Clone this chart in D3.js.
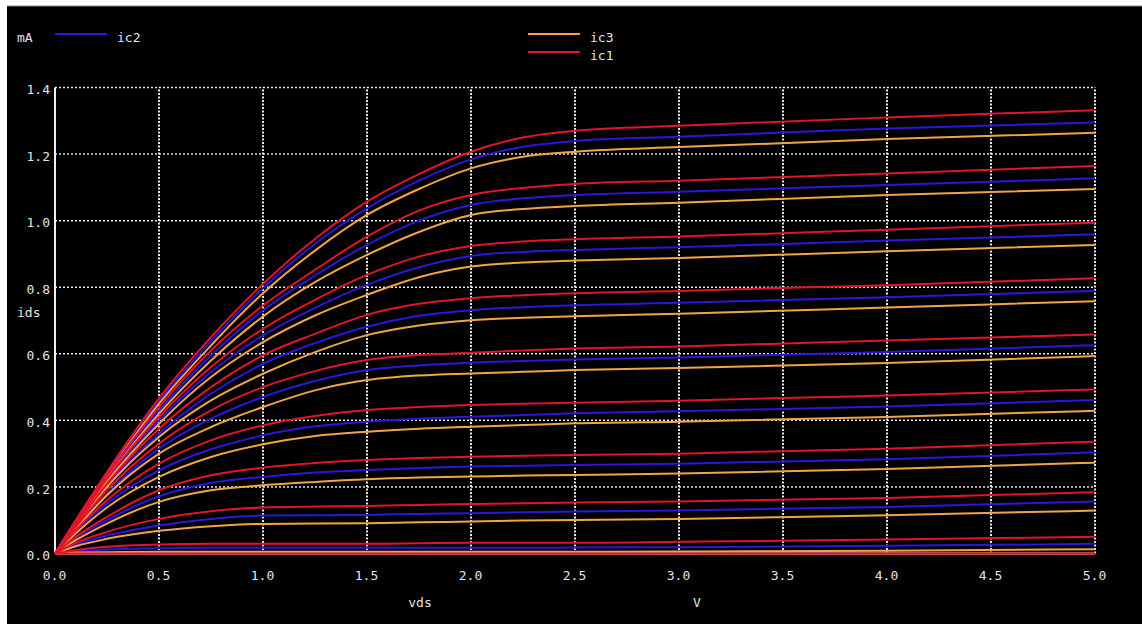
<!DOCTYPE html>
<html>
<head>
  <title>ids vs vds</title>
  <script src="https://d3js.org/d3.v7.min.js"></script>
  <style>
    body { margin: 0; background: #fff; }
    text {
      font-family: "DejaVu Sans Mono", monospace;
      font-size: 13px;
      fill: #e4e4e4;
    }
    .curve { fill: none; stroke-width: 2px; }
    .grid { stroke: #e8e8e8; stroke-width: 1.5px; }
  </style>
</head>
<body>
<svg width="1142" height="624"></svg>
<script>
  // sweep points (V)
  const vds = [0, 0.1, 0.25, 0.5, 0.75, 1.0, 1.25, 1.5, 1.75, 2.0, 2.25, 2.5, 3.0, 4.0, 5.0];

  // ic1 (red), one row per gate step, mA
  const ic1 = [
    [0, 0.100, 0.245, 0.466, 0.650, 0.810, 0.945, 1.057, 1.140, 1.207, 1.250, 1.270, 1.285, 1.310, 1.332],
    [0, 0.095, 0.235, 0.440, 0.610, 0.745, 0.852, 0.952, 1.030, 1.077, 1.098, 1.110, 1.120, 1.142, 1.164],
    [0, 0.090, 0.225, 0.410, 0.560, 0.675, 0.762, 0.837, 0.892, 0.924, 0.937, 0.944, 0.952, 0.973, 0.994],
    [0, 0.085, 0.210, 0.375, 0.500, 0.595, 0.660, 0.717, 0.750, 0.767, 0.776, 0.782, 0.789, 0.806, 0.827],
    [0, 0.080, 0.190, 0.330, 0.430, 0.500, 0.548, 0.581, 0.596, 0.603, 0.610, 0.616, 0.622, 0.640, 0.658],
    [0, 0.070, 0.160, 0.270, 0.340, 0.385, 0.413, 0.431, 0.440, 0.446, 0.450, 0.453, 0.459, 0.475, 0.493],
    [0, 0.050, 0.110, 0.190, 0.235, 0.258, 0.272, 0.281, 0.287, 0.291, 0.294, 0.296, 0.300, 0.315, 0.336],
    [0, 0.032, 0.065, 0.104, 0.127, 0.138, 0.141, 0.143, 0.146, 0.149, 0.151, 0.153, 0.156, 0.167, 0.184],
    [0, 0.010, 0.020, 0.027, 0.029, 0.029, 0.029, 0.029, 0.031, 0.032, 0.032, 0.032, 0.035, 0.042, 0.050],
    [0, 0, 0, 0, 0, 0, 0, 0, 0, 0, 0, 0, 0, 0, 0]
  ];

  // ic2 (blue)
  const ic2 = [
    [0, 0.100, 0.240, 0.458, 0.638, 0.797, 0.930, 1.037, 1.120, 1.184, 1.222, 1.239, 1.252, 1.277, 1.295],
    [0, 0.093, 0.230, 0.430, 0.595, 0.730, 0.835, 0.927, 1.000, 1.047, 1.067, 1.077, 1.087, 1.107, 1.127],
    [0, 0.088, 0.220, 0.400, 0.545, 0.655, 0.738, 0.807, 0.860, 0.894, 0.906, 0.912, 0.920, 0.940, 0.959],
    [0, 0.083, 0.205, 0.360, 0.480, 0.570, 0.632, 0.681, 0.714, 0.731, 0.740, 0.746, 0.753, 0.770, 0.789],
    [0, 0.077, 0.180, 0.315, 0.405, 0.470, 0.518, 0.551, 0.565, 0.573, 0.578, 0.583, 0.589, 0.605, 0.626],
    [0, 0.066, 0.150, 0.250, 0.313, 0.355, 0.382, 0.396, 0.405, 0.411, 0.416, 0.421, 0.427, 0.442, 0.461],
    [0, 0.046, 0.100, 0.172, 0.212, 0.230, 0.243, 0.251, 0.257, 0.261, 0.264, 0.266, 0.270, 0.283, 0.304],
    [0, 0.027, 0.054, 0.084, 0.104, 0.114, 0.115, 0.116, 0.119, 0.121, 0.124, 0.126, 0.129, 0.140, 0.156],
    [0, 0.006, 0.012, 0.016, 0.017, 0.017, 0.017, 0.017, 0.017, 0.017, 0.017, 0.018, 0.019, 0.023, 0.029],
    [0, 0, 0, 0, 0, 0, 0, 0, 0, 0, 0, 0, 0, 0, 0]
  ];

  // ic3 (orange)
  const ic3 = [
    [0, 0.098, 0.235, 0.450, 0.625, 0.782, 0.910, 1.017, 1.095, 1.157, 1.192, 1.207, 1.221, 1.245, 1.264],
    [0, 0.090, 0.225, 0.420, 0.580, 0.712, 0.815, 0.897, 0.966, 1.017, 1.035, 1.044, 1.054, 1.077, 1.095],
    [0, 0.085, 0.215, 0.390, 0.530, 0.635, 0.715, 0.777, 0.830, 0.862, 0.874, 0.880, 0.888, 0.908, 0.927],
    [0, 0.080, 0.200, 0.350, 0.460, 0.540, 0.605, 0.656, 0.685, 0.701, 0.708, 0.713, 0.720, 0.739, 0.758],
    [0, 0.074, 0.175, 0.300, 0.380, 0.440, 0.490, 0.521, 0.535, 0.541, 0.546, 0.551, 0.557, 0.572, 0.593],
    [0, 0.060, 0.138, 0.230, 0.290, 0.328, 0.353, 0.366, 0.375, 0.381, 0.386, 0.391, 0.396, 0.410, 0.429],
    [0, 0.040, 0.090, 0.155, 0.190, 0.205, 0.215, 0.223, 0.228, 0.231, 0.234, 0.236, 0.240, 0.254, 0.273],
    [0, 0.022, 0.044, 0.068, 0.082, 0.089, 0.090, 0.091, 0.094, 0.096, 0.099, 0.101, 0.104, 0.115, 0.129],
    [0, 0.003, 0.004, 0.005, 0.005, 0.005, 0.005, 0.005, 0.005, 0.005, 0.005, 0.005, 0.006, 0.008, 0.013],
    [0, 0, 0, 0, 0, 0, 0, 0, 0, 0, 0, 0, 0, 0, 0]
  ];

  const xTicks = [0, 0.5, 1.0, 1.5, 2.0, 2.5, 3.0, 3.5, 4.0, 4.5, 5.0];
  const yTicks = [0, 0.2, 0.4, 0.6, 0.8, 1.0, 1.2, 1.4];

  // plotted in legend order, so ic1 ends up on top
  const traces = [
    {name: "ic2", color: "#2a16dc", curves: ic2},
    {name: "ic3", color: "#f2a445", curves: ic3},
    {name: "ic1", color: "#e2142c", curves: ic1}
  ];

  const svg = d3.select("svg");

  // black canvas, white strip left/top like the screenshot
  svg.append("rect")
    .attr("x", 7).attr("y", 6)
    .attr("width", 1142 - 7).attr("height", 624 - 6)
    .attr("fill", "#000");
  svg.append("line")
    .attr("x1", 7).attr("x2", 1142).attr("y1", 6).attr("y2", 6)
    .attr("stroke", "#888").attr("stroke-width", 1);

  const x = d3.scaleLinear().domain([0, 5]).range([55, 1095]);
  const y = d3.scaleLinear().domain([0, 1.4]).range([553.5, 87.5]);

  // dotted grid
  svg.append("g").selectAll("line")
    .data(yTicks.filter(d => d > 0))
    .join("line")
      .attr("class", "grid")
      .attr("x1", x(0)).attr("x2", x(5))
      .attr("y1", d => y(d)).attr("y2", d => y(d))
      .attr("stroke-dasharray", "2,2");
  svg.append("g").selectAll("line")
    .data(xTicks.filter(d => d > 0))
    .join("line")
      .attr("class", "grid")
      .style("stroke-width", "2px")
      .attr("y1", y(0)).attr("y2", y(1.4))
      .attr("x1", d => x(d)).attr("x2", d => x(d))
      .attr("stroke-dasharray", "2,1.5");

  // solid left and bottom axis lines
  svg.append("line")
    .attr("x1", x(0)).attr("x2", x(0)).attr("y1", y(0)).attr("y2", y(1.4))
    .attr("stroke", "#f0f0f0").attr("stroke-width", 2);
  svg.append("line")
    .attr("x1", x(0)).attr("x2", x(5)).attr("y1", y(0)).attr("y2", y(0))
    .attr("stroke", "#f0f0f0").attr("stroke-width", 2);

  // tick labels
  const yAxis = svg.append("g")
    .attr("transform", `translate(${x(0)},2)`)
    .call(d3.axisLeft(y).tickValues(yTicks).tickFormat(d3.format(".1f")).tickSize(0).tickPadding(5));
  yAxis.select(".domain").remove();

  const xAxis = svg.append("g")
    .attr("transform", `translate(-1,${y(0)})`)
    .call(d3.axisBottom(x).tickValues(xTicks).tickFormat(d3.format(".1f")).tickSize(0).tickPadding(17));
  xAxis.select(".domain").remove();

  svg.selectAll(".tick text")
    .attr("fill", null)
    .style("font-family", '"DejaVu Sans Mono", monospace')
    .style("font-size", "13px");

  // curves
  const line = d3.line()
    .x((d, i) => x(vds[i]))
    .y(d => y(d))
    .curve(d3.curveMonotoneX);

  traces.forEach(t => {
    svg.append("g").selectAll("path")
      .data(t.curves)
      .join("path")
        .attr("class", "curve")
        .attr("stroke", t.color)
        .attr("d", d => line(d));
  });

  // titles
  svg.append("text").attr("x", 17).attr("y", 42).text("mA");
  svg.append("text").attr("x", 17).attr("y", 317).text("ids");
  svg.append("text").attr("x", 420).attr("y", 607).attr("text-anchor", "middle").text("vds");
  svg.append("text").attr("x", 697).attr("y", 607).attr("text-anchor", "middle").text("V");

  // legend
  const legend = [
    {name: "ic2", x: 55, y: 34},
    {name: "ic3", x: 528, y: 34},
    {name: "ic1", x: 528, y: 52}
  ];
  legend.forEach(l => {
    const t = traces.find(d => d.name === l.name);
    svg.append("line")
      .attr("x1", l.x).attr("x2", l.x + 52)
      .attr("y1", l.y).attr("y2", l.y)
      .attr("stroke", t.color).attr("stroke-width", 2);
    svg.append("text")
      .attr("x", l.x + 62).attr("y", l.y + 8)
      .text(l.name);
  });
</script>
</body>
</html>
